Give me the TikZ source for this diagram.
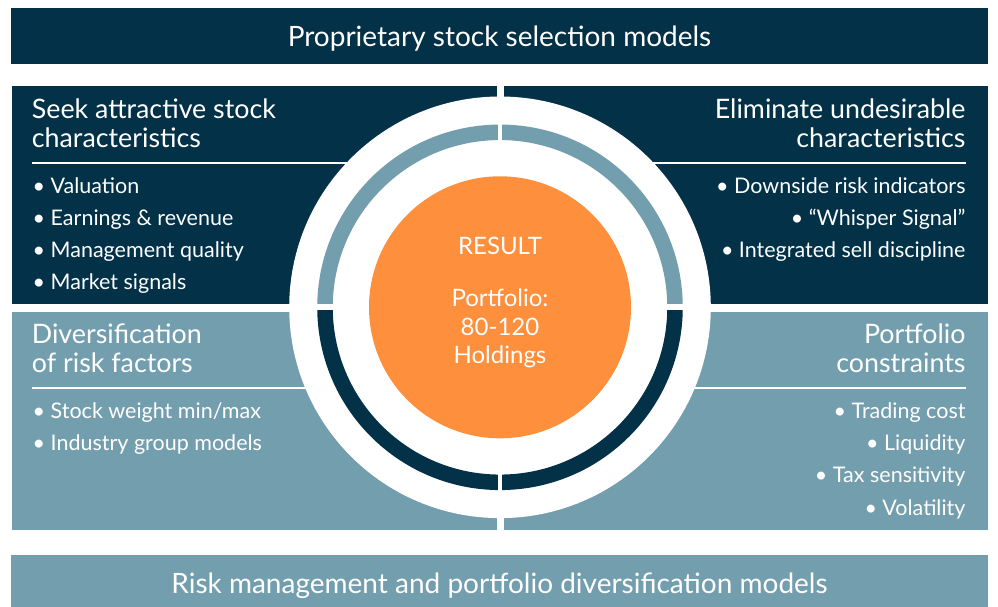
\documentclass[tikz,border=0pt]{standalone}
\usepackage{fontspec}
\setmainfont{Lato}
\definecolor{navy}{RGB}{3,49,71}
\definecolor{steel}{RGB}{115,158,174}
\definecolor{orng}{RGB}{254,143,60}
\begin{document}
\begin{tikzpicture}[x=1pt,y=-1pt,
  bartxt/.style={font=\fontsize{28}{33}\selectfont, text=white, inner sep=0pt, anchor=base},
  ttl/.style={font=\fontsize{26.8}{31}\selectfont, text=white, inner sep=0pt},
  bul/.style={font=\fontsize{21.5}{26}\selectfont, text=white, inner sep=0pt},
  ctr/.style={font=\fontsize{24}{28}\selectfont, text=white, inner sep=0pt, anchor=base},
  uline/.style={white, line width=2pt}]
\useasboundingbox (0,0) rectangle (998,606);
% bars
\fill[navy] (11,8) rectangle (988,63.7);
\fill[steel] (11,555) rectangle (988,620);
% quadrants
\fill[navy] (12,86) rectangle (497.4,303.6);
\fill[navy] (503.6,86) rectangle (988,303.6);
\fill[steel] (12,311.8) rectangle (497.4,529.5);
\fill[steel] (503.6,311.8) rectangle (988,529.5);
% underlines
\draw[uline] (31.7,162.7) -- (500,162.7);
\draw[uline] (500,162.7) -- (965.7,162.7);
\draw[uline] (31.7,388.3) -- (500,388.3);
\draw[uline] (500,388.3) -- (965.7,388.3);
% central disc
\coordinate (c) at (500,307.3);
\fill[white] (c) circle[radius=210.8pt];
\begin{scope}
  \clip (280,90) rectangle (720,307.3);
  \draw[steel, line width=15.5pt] (c) circle[radius=175pt];
\end{scope}
\begin{scope}
  \clip (280,307.3) rectangle (720,525);
  \draw[navy, line width=15.5pt] (c) circle[radius=175pt];
\end{scope}
\fill[white] (498.3,110) rectangle (501.9,505);
\fill[white] (305,304.2) rectangle (695,310.2);
\fill[orng] (c) circle[radius=131pt];
% bar texts
\node[bartxt] (top) at (499.5,46.7) {Proprietary stock selection models};
\node[bartxt] (bottom) at (499.5,593.3) {Risk management and portfolio diversification models};
% top-left
\node[ttl, anchor=base west] (tl1) at (31.7,118.3) {Seek attractive stock};
\node[ttl, anchor=base west] (tl2) at (31.7,147.7) {characteristics};
\node[bul, anchor=base west] (tlb1) at (32.5,193.3) {•\ Valuation};
\node[bul, anchor=base west] (tlb2) at (32.5,225.3) {•\ Earnings \& revenue};
\node[bul, anchor=base west] (tlb3) at (32.5,257.3) {•\ Management quality};
\node[bul, anchor=base west] (tlb4) at (32.5,289.3) {•\ Market signals};
% top-right
\node[ttl, anchor=base east] (tr1) at (965.7,118.3) {Eliminate undesirable};
\node[ttl, anchor=base east] (tr2) at (965.7,147.7) {characteristics};
\node[bul, anchor=base east] (trb1) at (965.7,193.3) {•\ Downside risk indicators};
\node[bul, anchor=base east] (trb2) at (965.7,225.3) {•\ “Whisper Signal”};
\node[bul, anchor=base east] (trb3) at (965.7,257.3) {•\ Integrated sell discipline};
% bottom-left
\node[ttl, anchor=base west] (bl1) at (31.7,343.3) {Diversification};
\node[ttl, anchor=base west] (bl2) at (31.7,372.3) {of risk factors};
\node[bul, anchor=base west] (blb1) at (32.5,418.3) {•\ Stock weight min/max};
\node[bul, anchor=base west] (blb2) at (32.5,450.5) {•\ Industry group models};
% bottom-right
\node[ttl, anchor=base east] (br1) at (965.7,343.3) {Portfolio};
\node[ttl, anchor=base east] (br2) at (965.7,372.3) {constraints};
\node[bul, anchor=base east] (brb1) at (965.7,418.3) {•\ Trading cost};
\node[bul, anchor=base east] (brb2) at (965.7,450.5) {•\ Liquidity};
\node[bul, anchor=base east] (brb3) at (965.7,482.7) {•\ Tax sensitivity};
\node[bul, anchor=base east] (brb4) at (965.7,515) {•\ Volatility};
% center
\node[ctr] (res) at (500,254) {RESULT};
\node[ctr] (pf) at (500,306.7) {Portfolio:};
\node[ctr] (num) at (500,335) {80-120};
\node[ctr] (hold) at (500,363.3) {Holdings};
\end{tikzpicture}
\end{document}
